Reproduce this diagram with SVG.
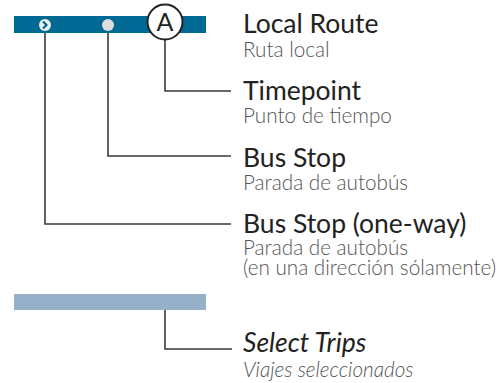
<svg xmlns="http://www.w3.org/2000/svg" width="503" height="383" viewBox="0 0 503 383">
<style>
.lead{fill:none;stroke:#3a3a3a;stroke-width:1.6}
.h{font-family:Lato,"Liberation Sans",sans-serif;font-size:26.5px;fill:#222}
.s{font-family:Lato,"Liberation Sans",sans-serif;font-size:20.7px;fill:#555;font-weight:300}
.i{font-style:italic}
</style>
<rect width="503" height="383" fill="#fff"/>
<g id="connectors">
<path class="lead" d="M165 40 V91 H231"/>
<path class="lead" d="M108 31 V156 H231"/>
<path class="lead" d="M45 31 V224 H231"/>
<path class="lead" d="M165 310 V349 H232"/>
</g>
<g id="local-route">
<rect x="14" y="16" width="192" height="17" fill="#006a94"/>
<text class="h" x="243" y="33">Local Route</text>
<text class="s" x="243" y="57">Ruta local</text>
</g>
<g id="one-way-stop">
<circle cx="45" cy="25" r="6" fill="#eee"/>
<path d="M43 21.5 L46.5 25 L43 28.5" fill="none" stroke="#006a94" stroke-width="2.2"/>
<text class="h" x="243" y="233">Bus Stop (one-way)</text>
<text class="s" x="243" y="255">Parada de autobús</text>
<text class="s" x="243" y="275">(en una dirección sólamente)</text>
</g>
<g id="bus-stop">
<circle cx="108" cy="25" r="6" fill="#ddd"/>
<text class="h" x="243" y="167">Bus Stop</text>
<text class="s" x="243" y="190">Parada de autobús</text>
</g>
<g id="timepoint">
<circle cx="165" cy="22" r="17.5" fill="#fff" stroke="#222" stroke-width="2"/>
<text x="165" y="31" text-anchor="middle" font-family="Lato,'Liberation Sans',sans-serif" font-size="25" fill="#222">A</text>
<text class="h" x="243" y="100">Timepoint</text>
<text class="s" x="243" y="123">Punto de tiempo</text>
</g>
<g id="select-trips">
<rect x="14" y="294" width="192" height="16" fill="#94b1c9"/>
<text class="h i" x="243" y="352">Select Trips</text>
<text class="s i" x="243" y="377">Viajes seleccionados</text>
</g>
</svg>
